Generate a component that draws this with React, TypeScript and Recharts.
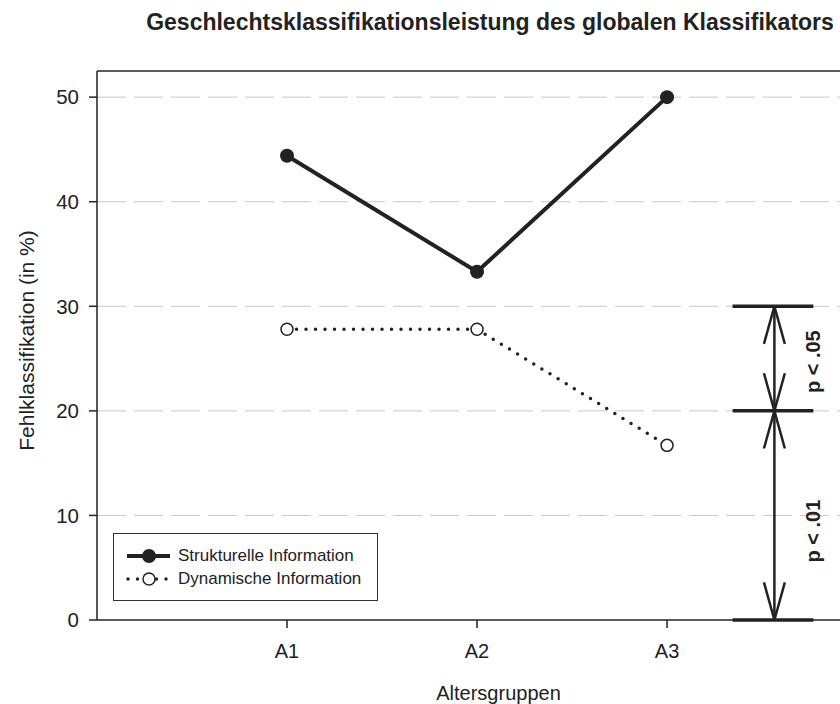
import {
  CartesianGrid,
  Legend,
  Line,
  LineChart,
  ReferenceDot,
  ReferenceLine,
  XAxis,
  YAxis,
} from "recharts";

const groups = ["A1", "A2", "A3"];
const strukturelle = [44.4, 33.3, 50.0];
const dynamische = [27.8, 27.8, 16.7];
const yTicks = [0, 10, 20, 30, 40, 50];

// significance brackets on the right side
const bracketLevels = [0, 20, 30];
const brackets = [
  { from: 20, to: 30, label: "p < .05", labelY: 24.7 },
  { from: 0, to: 20, label: "p < .01", labelY: 8.5 },
];

const INK = "#222";
const FONT = '"Liberation Sans", Arial, Helvetica, sans-serif';

const chartData = groups.map((group, i) => ({
  x: i + 1,
  group,
  strukturelle: strukturelle[i],
  dynamische: dynamische[i],
}));

// bracket geometry in data units
const ARROW_X = 3.565;
const BAR_X0 = 3.345;
const BAR_X1 = 3.77;
const HEAD_W = 0.055;
const HEAD_L = 3.6;
const LABEL_X = 3.768;

function YLabel({ viewBox }: any) {
  const cy = viewBox.y + viewBox.height / 2 - 5;
  return (
    <text
      x={0}
      y={0}
      transform={`translate(34, ${cy}) rotate(-90)`}
      textAnchor="middle"
      fontSize={21}
      fill={INK}
      fontFamily={FONT}
    >
      Fehlklassifikation (in %)
    </text>
  );
}

function LegendBox() {
  return (
    <div
      style={{
        width: 265,
        height: 68,
        border: "1px solid #333",
        background: "#fff",
        fontFamily: FONT,
        fontSize: 17,
        color: INK,
        boxSizing: "border-box",
        paddingTop: 10,
      }}
    >
      <div style={{ display: "flex", alignItems: "center", height: 23 }}>
        <svg width={64} height={20}>
          <line x1={13} x2={56} y1={10} y2={10} stroke={INK} strokeWidth={4} />
          <circle cx={35} cy={10} r={7} fill={INK} />
        </svg>
        <span>Strukturelle Information</span>
      </div>
      <div style={{ display: "flex", alignItems: "center", height: 23 }}>
        <svg width={64} height={20}>
          <line
            x1={14}
            x2={56}
            y1={10}
            y2={10}
            stroke={INK}
            strokeWidth={3.5}
            strokeDasharray="0 9.5"
            strokeLinecap="round"
          />
          <circle cx={35} cy={10} r={6} fill="#fff" stroke={INK} strokeWidth={1.5} />
        </svg>
        <span>Dynamische Information</span>
      </div>
    </div>
  );
}

export default function App() {
  return (
    <div
      style={{
        position: "absolute",
        left: 0,
        top: 0,
        width: 840,
        height: 704,
        overflow: "hidden",
        background: "#fff",
        fontFamily: FONT,
      }}
    >
      <div
        style={{
          position: "absolute",
          left: 140,
          top: 11,
          width: 700,
          textAlign: "center",
          fontSize: 23,
          lineHeight: "23px",
          fontWeight: "bold",
          color: INK,
          whiteSpace: "nowrap",
        }}
      >
        Geschlechtsklassifikationsleistung des globalen Klassifikators
      </div>
      <LineChart
        width={900}
        height={704}
        data={chartData}
        margin={{ top: 71, right: 0, bottom: 0, left: 0 }}
        style={{ fontFamily: FONT }}
      >
        <CartesianGrid
          vertical={false}
          horizontalValues={[10, 20, 30, 40, 50]}
          stroke="#c8c8c8"
          strokeDasharray="29 8"
        />
        <XAxis
          type="number"
          dataKey="x"
          domain={[0, 4.226]}
          ticks={[1, 2, 3]}
          tickFormatter={(v: number) => groups[v - 1] ?? ""}
          height={84}
          tickSize={8}
          tickMargin={16}
          axisLine={{ stroke: INK, strokeWidth: 1.5 }}
          tickLine={{ stroke: INK, strokeWidth: 1.5 }}
          tick={{ fill: INK, fontSize: 20 }}
          label={{ value: "Altersgruppen", position: "insideBottom", offset: 4, fill: INK, fontSize: 20 }}
        />
        <YAxis
          type="number"
          domain={[0, 52.5]}
          ticks={yTicks}
          width={97}
          tickSize={8}
          tickMargin={10}
          allowDataOverflow
          axisLine={{ stroke: INK, strokeWidth: 1.5 }}
          tickLine={{ stroke: INK, strokeWidth: 1.5 }}
          tick={{ fill: INK, fontSize: 20.5 }}
          label={<YLabel />}
        />
        <ReferenceLine y={52.5} stroke={INK} strokeWidth={1.5} />

        {bracketLevels.map((lvl) => (
          <ReferenceLine
            key={`bar-${lvl}`}
            segment={[
              { x: BAR_X0, y: lvl },
              { x: BAR_X1, y: lvl },
            ]}
            stroke={INK}
            strokeWidth={3.5}
          />
        ))}
        <ReferenceLine
          segment={[
            { x: ARROW_X, y: 0 },
            { x: ARROW_X, y: 30 },
          ]}
          stroke={INK}
          strokeWidth={2.5}
        />
        {brackets.flatMap((b) =>
          [
            [b.to, -HEAD_L],
            [b.from, HEAD_L],
          ].flatMap(([tip, len]) =>
            [-HEAD_W, HEAD_W].map((w) => (
              <ReferenceLine
                key={`head-${b.label}-${tip}-${w}`}
                segment={[
                  { x: ARROW_X, y: tip },
                  { x: ARROW_X + w, y: tip + len },
                ]}
                stroke={INK}
                strokeWidth={2.5}
              />
            ))
          )
        )}
        {brackets.map((b) => (
          <ReferenceDot
            key={`lab-${b.label}`}
            x={LABEL_X}
            y={b.labelY}
            r={0}
            fill="none"
            stroke="none"
            label={{
              value: b.label,
              position: "center",
              angle: -90,
              fontSize: 20,
              fontWeight: "bold",
              fill: INK,
            }}
          />
        ))}

        <Line
          type="linear"
          dataKey="strukturelle"
          stroke={INK}
          strokeWidth={4}
          dot={{ r: 7, fill: INK, stroke: INK, strokeWidth: 0 }}
          activeDot={false}
          isAnimationActive={false}
        />
        <Line
          type="linear"
          dataKey="dynamische"
          stroke={INK}
          strokeWidth={3.5}
          strokeDasharray="0 9.5"
          strokeLinecap="round"
          dot={{ r: 6, fill: "#fff", stroke: INK, strokeWidth: 1.5, strokeDasharray: "" }}
          activeDot={false}
          isAnimationActive={false}
        />
        <Legend
          layout="vertical"
          align="center"
          verticalAlign="middle"
          content={<LegendBox />}
          wrapperStyle={{ position: "absolute", left: 113, top: 533, width: 265, height: 69 }}
        />
      </LineChart>
    </div>
  );
}
